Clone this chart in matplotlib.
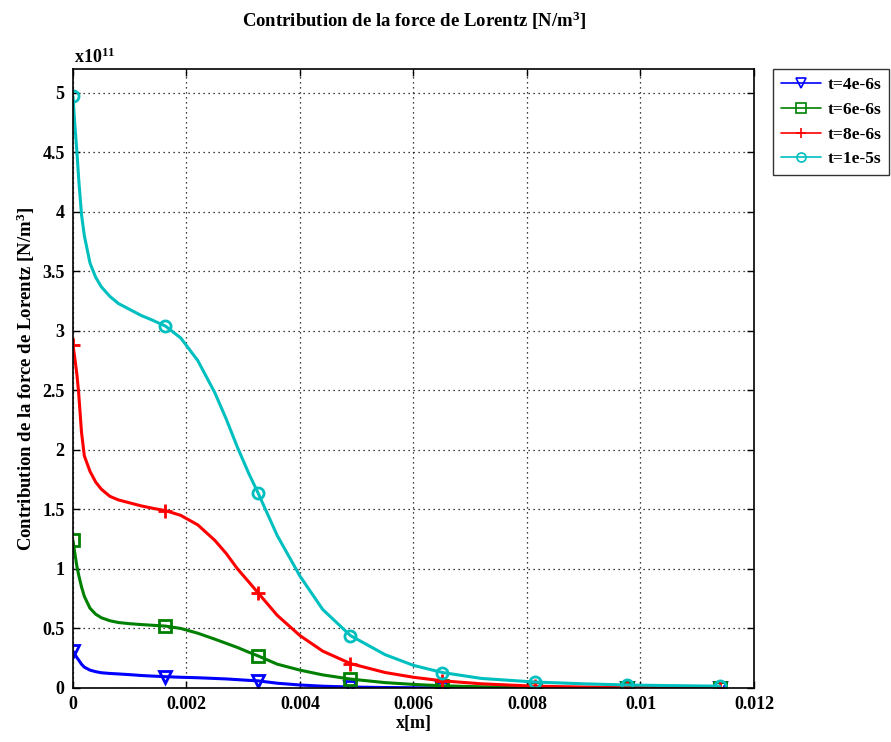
"""
Contribution de la force de Lorentz along x for four instants.
"""

import matplotlib
matplotlib.use("Agg")
import matplotlib.pyplot as plt

# x positions [m]; markers sit on MARK_IDX
X = [0, 0.00003, 0.00007, 0.0001, 0.00015, 0.0002, 0.0003, 0.0004, 0.0005,
     0.00065, 0.0008, 0.001, 0.0012, 0.0014, 0.00163, 0.0019, 0.0022, 0.0025,
     0.0027, 0.0029, 0.0031, 0.00326, 0.0036, 0.004, 0.0044, 0.00489, 0.0055,
     0.006, 0.00651, 0.0072, 0.00814, 0.009, 0.00977, 0.0105, 0.0114]
MARK_IDX = [0, 14, 21, 25, 28, 30, 32, 34]

# values in units of 1e11 N/m^3
F_4E6 = [0.31, 0.285, 0.255, 0.235, 0.20, 0.175, 0.15, 0.137, 0.128, 0.122,
         0.118, 0.112, 0.105, 0.10, 0.095, 0.09, 0.086, 0.08, 0.076, 0.07,
         0.064, 0.06, 0.04, 0.025, 0.015, 0.008, 0.004, 0.002, 0.001,
         0.0, 0.0, 0.0, 0.0, 0.0, 0.0]
F_6E6 = [1.24, 1.14, 1.02, 0.95, 0.85, 0.77, 0.67, 0.62, 0.59, 0.565, 0.55,
         0.54, 0.533, 0.527, 0.52, 0.50, 0.46, 0.41, 0.375, 0.34, 0.30, 0.27,
         0.20, 0.15, 0.11, 0.075, 0.045, 0.03, 0.018, 0.01, 0.004, 0.002,
         0.001, 0.0, 0.0]
F_8E6 = [2.88, 2.78, 2.63, 2.48, 2.15, 1.95, 1.82, 1.73, 1.67, 1.61, 1.58,
         1.555, 1.53, 1.51, 1.49, 1.45, 1.37, 1.24, 1.13, 1.00, 0.89, 0.80,
         0.61, 0.44, 0.31, 0.205, 0.13, 0.09, 0.06, 0.035, 0.015, 0.008,
         0.004, 0.002, 0.0]
F_1E5 = [4.97, 4.75, 4.50, 4.28, 3.98, 3.80, 3.57, 3.45, 3.37, 3.29, 3.23,
         3.18, 3.13, 3.09, 3.04, 2.94, 2.75, 2.48, 2.26, 2.02, 1.80, 1.64,
         1.28, 0.94, 0.66, 0.44, 0.28, 0.19, 0.13, 0.08, 0.05, 0.035, 0.025,
         0.02, 0.015]

LABELS = ["t=4e-6s", "t=6e-6s", "t=8e-6s", "t=1e-5s"]
COLORS = ["#0000ff", "#008000", "#ff0000", "#00bfbf"]
MARKERS = ["v", "s", "+", "o"]

X_TICKS = [0, 0.002, 0.004, 0.006, 0.008, 0.01, 0.012]
X_TICKLABELS = ["0", "0.002", "0.004", "0.006", "0.008", "0.01", "0.012"]
Y_TICKS = [0, 0.5, 1, 1.5, 2, 2.5, 3, 3.5, 4, 4.5, 5]
Y_TICKLABELS = ["0", "0.5", "1", "1.5", "2", "2.5", "3", "3.5", "4", "4.5", "5"]

TITLE = "Contribution de la force de Lorentz [N/m$^{3}$]"

plt.rcParams["font.family"] = ["Liberation Serif", "DejaVu Serif"]
plt.rcParams["font.weight"] = "bold"
plt.rcParams["mathtext.fontset"] = "custom"
plt.rcParams["mathtext.rm"] = "Liberation Serif:bold"
plt.rcParams["mathtext.it"] = "Liberation Serif:bold"
plt.rcParams["mathtext.bf"] = "Liberation Serif:bold"


def main():
    fig = plt.figure(figsize=(8.91, 7.42), dpi=100)
    ax = fig.add_axes([0.0819, 0.0728, 0.7643, 0.8342])

    series = [F_4E6, F_6E6, F_8E6, F_1E5]
    for ys, lab, col, mk in zip(series, LABELS, COLORS, MARKERS):
        ax.plot(X, ys, color=col, lw=2.2, marker=mk, markevery=MARK_IDX,
                markersize=10 if mk == "+" else 8, markerfacecolor="none",
                markeredgecolor=col, markeredgewidth=2.0, label=lab,
                solid_capstyle="round", solid_joinstyle="round")

    ax.set_xlim(0, 0.012)
    ax.set_ylim(0, 5.2)
    ax.set_xticks(X_TICKS)
    ax.set_xticklabels(X_TICKLABELS)
    ax.set_yticks(Y_TICKS)
    ax.set_yticklabels(Y_TICKLABELS)
    ax.tick_params(direction="in", top=True, right=True, length=5,
                   width=1, labelsize=13, pad=6)
    for s in ax.spines.values():
        s.set_linewidth(1.2)

    ax.grid(True, color="black", linestyle=(0, (1, 3)), linewidth=0.9)

    ax.text(0.002, 1.004, "x10$^{11}$", transform=ax.transAxes,
            fontsize=13, fontweight="bold", va="bottom", ha="left")
    fig.text(0.465, 0.972, TITLE, fontsize=13.5, fontweight="bold",
             ha="center", va="center")
    ax.set_xlabel("x[m]", fontsize=13, fontweight="bold", labelpad=1)
    ax.set_ylabel(TITLE, fontsize=13.5, fontweight="bold", labelpad=4)

    leg = ax.legend(loc="upper left", bbox_to_anchor=(1.028, 1.0),
                    fontsize=12.5, frameon=True, fancybox=False,
                    borderaxespad=0, handlelength=2.3, labelspacing=0.5,
                    borderpad=0.45, handletextpad=0.4)
    leg.get_frame().set_edgecolor("black")
    leg.get_frame().set_linewidth(1.0)
    # thinner lines / smaller markers in the legend keys
    for h in leg.legend_handles:
        h.set_linewidth(1.2)
        h.set_markersize(6.5)
        h.set_markeredgewidth(1.2)

    fig.savefig("out.png", dpi=100)
    plt.close(fig)


if __name__ == "__main__":
    main()
